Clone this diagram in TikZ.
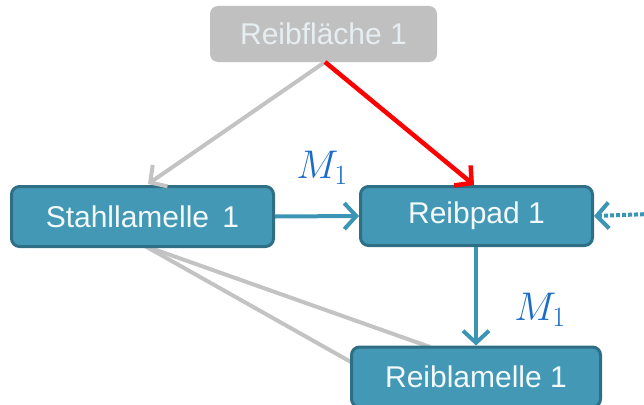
\documentclass[tikz,border=0pt]{standalone}
\usepackage{fix-cm}
\usepackage{fontspec}
\setmainfont{Liberation Sans}
\usetikzlibrary{arrows.meta}
\definecolor{boxfill}{HTML}{4398B6}
\definecolor{boxedge}{HTML}{2E6F86}
\definecolor{boxtext}{HTML}{F2F9FB}
\definecolor{ghostfill}{HTML}{C0C0C0}
\definecolor{ghosttext}{HTML}{E6EEF2}
\definecolor{flowblue}{HTML}{3C95B5}
\definecolor{linkgrey}{HTML}{C3C3C3}
\definecolor{torque}{HTML}{1A6CC8}
\tikzset{
  part/.style={draw=boxedge, fill=boxfill, line width=3pt, rounded corners=8pt,
    text=boxtext, font=\fontsize{30}{34}\selectfont, inner sep=0pt},
  ghost/.style={fill=ghostfill, rounded corners=8pt, text=ghosttext,
    font=\fontsize{30}{34}\selectfont, inner sep=0pt},
  barb/.style={-{Straight Barb[length=12pt,width=26pt]}},
  flow/.style={barb, draw=flowblue, line width=4pt},
  hit/.style={barb, draw=red, line width=4.5pt},
  link/.style={draw=linkgrey, line width=4pt},
  linkarrow/.style={link, barb},
  torquelabel/.style={text=torque, font=\fontsize{40}{44}\selectfont, inner sep=0pt}
}
\begin{document}
\begin{tikzpicture}[x=1pt, y=-1pt]
  \clip (0,0) rectangle (644,404);

  % grey background links first, so the boxes cover their ends
  \coordinate (sfoot) at (145,246);
  \coordinate (rtop) at (430,347);
  \coordinate (rside) at (351,362);
  \draw[link] (sfoot) -- (rtop);
  \draw[link] (sfoot) -- (rside);

  \node[ghost, minimum width=227pt, minimum height=56pt] (rf) at (323.5,34) {Reibfläche 1};
  \node[part, minimum width=262pt, minimum height=60pt] (sl) at (142.5,216.5) {Stahllamelle\, 1};
  \node[part, minimum width=232pt, minimum height=59pt] (rp) at (476.5,216) {Reibpad 1};
  \node[part, minimum width=249pt, minimum height=60pt] (rl) at (476,377) {Reiblamelle 1};

  \coordinate (rfout) at (325,62);
  \coordinate (slin) at (148,184);
  \coordinate (rpin) at (474,185);
  \draw[linkarrow] (rfout) -- (slin);
  \draw[hit] (rfout) -- (rpin);

  \draw[flow] (sl.east) -- (rp.west);
  \draw[flow] (rp.south -| rl.north) -- (rl.north);
  \coordinate (offright) at (650,214);
  \draw[flow, dotted, line cap=butt] (offright) -- (rp.east);

  \node[torquelabel] (m1a) at (322,168) {$M_1$};
  \node[torquelabel] (m1b) at (540,310) {$M_1$};
\end{tikzpicture}
\end{document}
